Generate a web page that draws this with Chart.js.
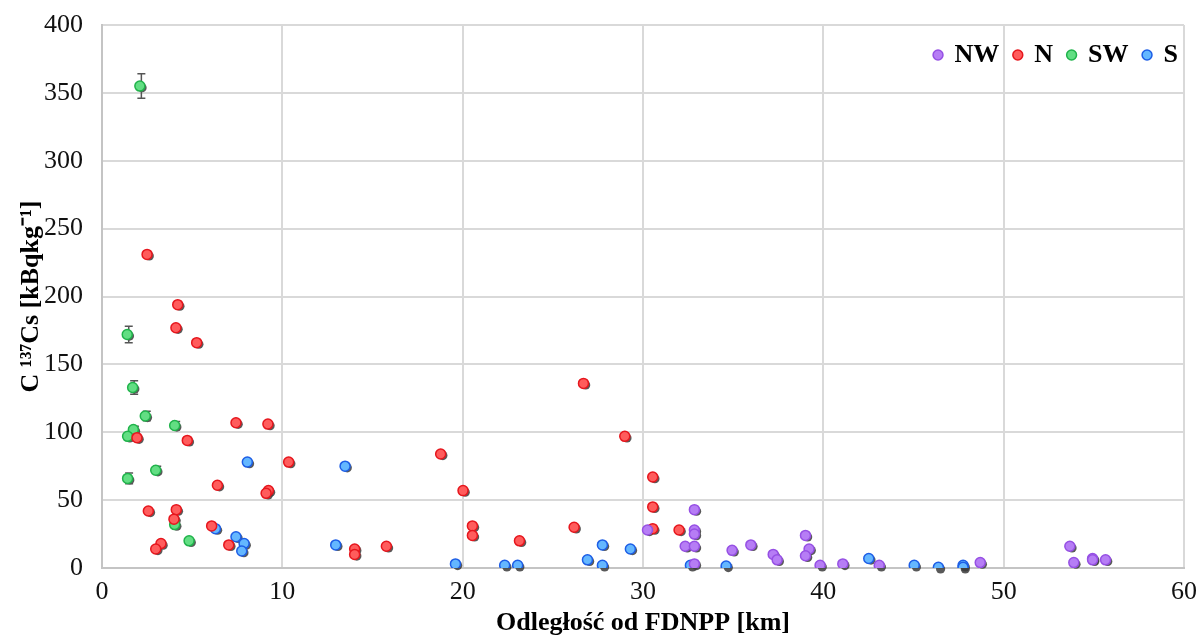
<!DOCTYPE html>
<html>
<head>
<meta charset="utf-8">
<script src="https://cdn.jsdelivr.net/npm/chart.js@4/dist/chart.umd.min.js"></script>
<style>
    html, body { margin: 0; padding: 0; background: #fff; }
    #wrap { width: 1201px; height: 639px; }
</style>
</head>
<body>
<div id="wrap"><canvas id="cesiumChart"></canvas></div>
<script>
// Distance from the plant [km] and 137Cs activity [kBq/kg] per sampling direction
const nwDist = [30.25, 32.85, 32.85, 32.85, 32.34, 32.85, 32.85, 34.94, 35.98, 37.22, 37.44, 39.01, 39.21, 39.01, 39.82, 41.08, 43.1, 48.7, 53.67, 53.89, 54.93, 54.93, 55.65];
const nwCs = [28, 43, 28, 25, 16, 16, 3, 13, 17, 10, 6, 24, 14, 9, 2, 3, 2, 4, 16, 4, 7, 6, 6];

const nDist = [2.5, 4.2, 4.1, 5.25, 7.43, 9.2, 1.94, 4.73, 10.35, 6.4, 9.23, 9.1, 2.57, 4.12, 3.99, 6.08, 3.27, 2.98, 7.03,
    18.78, 20.02, 20.54, 20.54, 14.01, 14.01, 15.77, 26.7, 28.99, 30.54, 30.54, 30.54, 32.0, 26.18, 23.15];
const nCs = [231, 194, 177, 166, 107, 106, 96, 94, 78, 61, 57, 55, 42, 43, 36, 31, 18, 14, 17,
    84, 57, 31, 24, 14, 10, 16, 136, 97, 67, 45, 29, 28, 30, 20];

const swDist = [2.1, 1.4, 1.7, 2.4, 1.74, 1.42, 4.03, 2.98, 1.42, 4.03, 4.83];
const swCs = [355, 172, 133, 112, 102, 97, 105, 72, 66, 32, 20];
const swErr = [9, 6, 5, 3.5, 2.5, 2.5, 3, 3, 4, 3, 0];

const sDist = [8.06, 6.29, 7.43, 7.88, 7.75, 13.48, 12.96, 19.6, 22.33, 23.05, 26.92, 27.75, 27.75, 29.3, 32.63, 34.61, 42.52, 45.04, 46.38, 47.75, 47.75];
const sCs = [78, 29, 23, 18, 12.5, 75, 17, 3, 2, 2, 6, 17, 2, 14, 2, 1.5, 7, 2, 0.5, 2, 0.5];

const xTicks = [0, 10, 20, 30, 40, 50, 60];
const yTicks = [0, 50, 100, 150, 200, 250, 300, 350, 400];

const serif = "'Liberation Serif', 'Times New Roman', serif";

function toPoints(xs, ys) {
    return xs.map((x, i) => ({ x: x, y: ys[i] }));
}

function series(label, xs, ys, fill, edge) {
    return {
        label: label,
        data: toPoints(xs, ys),
        backgroundColor: fill,
        borderColor: edge,
        pointBackgroundColor: fill,
        pointBorderColor: edge,
        pointBorderWidth: 1.5,
        pointRadius: 5,
        pointHoverRadius: 5,
    };
}

// vertical error bars for the SW samples + dark offset shadow under each marker
const underlay = {
    id: "underlay",
    beforeDatasetsDraw(chart) {
        const ctx = chart.ctx;
        const xs = chart.scales.x;
        const ys = chart.scales.y;
        ctx.save();

        ctx.fillStyle = "rgba(60, 60, 60, 0.85)";
        chart.data.datasets.forEach((ds, i) => {
            chart.getDatasetMeta(i).data.forEach((pt) => {
                ctx.beginPath();
                ctx.arc(pt.x + 2.2, pt.y + 1.6, 4.6, 0, Math.PI * 2);
                ctx.fill();
            });
        });

        ctx.strokeStyle = "#555";
        ctx.lineWidth = 1.5;
        swDist.forEach((d, i) => {
            if (!swErr[i]) return;
            const px = xs.getPixelForValue(d) + 1.5;
            const top = ys.getPixelForValue(swCs[i] + swErr[i]);
            const bot = ys.getPixelForValue(swCs[i] - swErr[i]);
            ctx.beginPath();
            ctx.moveTo(px, top);
            ctx.lineTo(px, bot);
            ctx.moveTo(px - 4, top);
            ctx.lineTo(px + 4, top);
            ctx.moveTo(px - 4, bot);
            ctx.lineTo(px + 4, bot);
            ctx.stroke();
        });
        ctx.restore();
    },
};

// legend sits inside the plot: reserve no height for it in the layout,
// then give its box the real height back so its clip region isn't empty
const flatLegend = {
    id: "flatLegend",
    beforeLayout(chart) {
        const legend = chart.legend;
        if (!legend || legend._flat) return;
        const fit = legend.fit.bind(legend);
        legend.fit = function () {
            fit();
            this._realHeight = this.height;
            this.height = 0;
        };
        legend._flat = true;
    },
    afterLayout(chart) {
        const legend = chart.legend;
        if (!legend || !legend._realHeight) return;
        legend.left += 9;
        legend.right += 9;
        legend.top += 2;
        legend.height = legend._realHeight;
        legend.bottom = legend.top + legend._realHeight;
    },
};

new Chart(document.getElementById("cesiumChart"), {
    type: "scatter",
    data: {
        datasets: [
            series("NW", nwDist, nwCs, "#b67df5", "#9650e4"),
            series("N", nDist, nCs, "#ff5c5c", "#e6161d"),
            series("SW", swDist, swCs, "#62de83", "#20b34b"),
            series("S", sDist, sCs, "#64b7ff", "#1d5ee6"),
        ],
    },
    options: {
        responsive: true,
        maintainAspectRatio: false,
        animation: false,
        events: [],
        layout: {
            padding: { top: 25, right: 17, left: 0, bottom: 0 },
        },
        plugins: {
            tooltip: { enabled: false },
            legend: {
                display: true,
                position: "top",
                align: "end",
                labels: {
                    usePointStyle: true,
                    pointStyle: "circle",
                    boxWidth: 7,
                    boxHeight: 7,
                    padding: 15,
                    color: "#000",
                    font: { family: serif, size: 26, weight: "bold" },
                },
            },
        },
        scales: {
            x: {
                type: "linear",
                min: 0,
                max: 60,
                afterBuildTicks: (scale) => {
                    scale.ticks = xTicks.map((v) => ({ value: v }));
                },
                afterFit: (scale) => {
                    scale.height = 71;
                    scale.paddingLeft = 0;
                    scale.paddingRight = 0;
                },
                ticks: {
                    color: "#111",
                    padding: 9,
                    font: { family: serif, size: 26 },
                },
                grid: {
                    color: "#d9d9d9",
                    lineWidth: 2,
                    drawTicks: false,
                },
                border: { color: "#c4c4c4", width: 2 },
                title: {
                    display: true,
                    text: "Odległość od FDNPP [km]",
                    color: "#000",
                    padding: { top: 0, bottom: 0 },
                    font: { family: serif, size: 26, weight: "bold" },
                },
            },
            y: {
                type: "linear",
                min: 0,
                max: 400,
                afterBuildTicks: (scale) => {
                    scale.ticks = yTicks.map((v) => ({ value: v }));
                },
                afterFit: (scale) => {
                    scale.width = 102;
                    scale.paddingTop = 0;
                    scale.paddingBottom = 0;
                },
                ticks: {
                    color: "#111",
                    padding: 19,
                    font: { family: serif, size: 26 },
                },
                grid: {
                    color: "#d9d9d9",
                    lineWidth: 2,
                    drawTicks: false,
                },
                border: { color: "#c4c4c4", width: 2 },
                title: {
                    display: true,
                    text: "C ¹³⁷Cs [kBqkg⁻¹]",
                    color: "#000",
                    padding: { top: 16, bottom: 0 },
                    font: { family: serif, size: 26, weight: "bold" },
                },
            },
        },
    },
    plugins: [underlay, flatLegend],
});
</script>
</body>
</html>
